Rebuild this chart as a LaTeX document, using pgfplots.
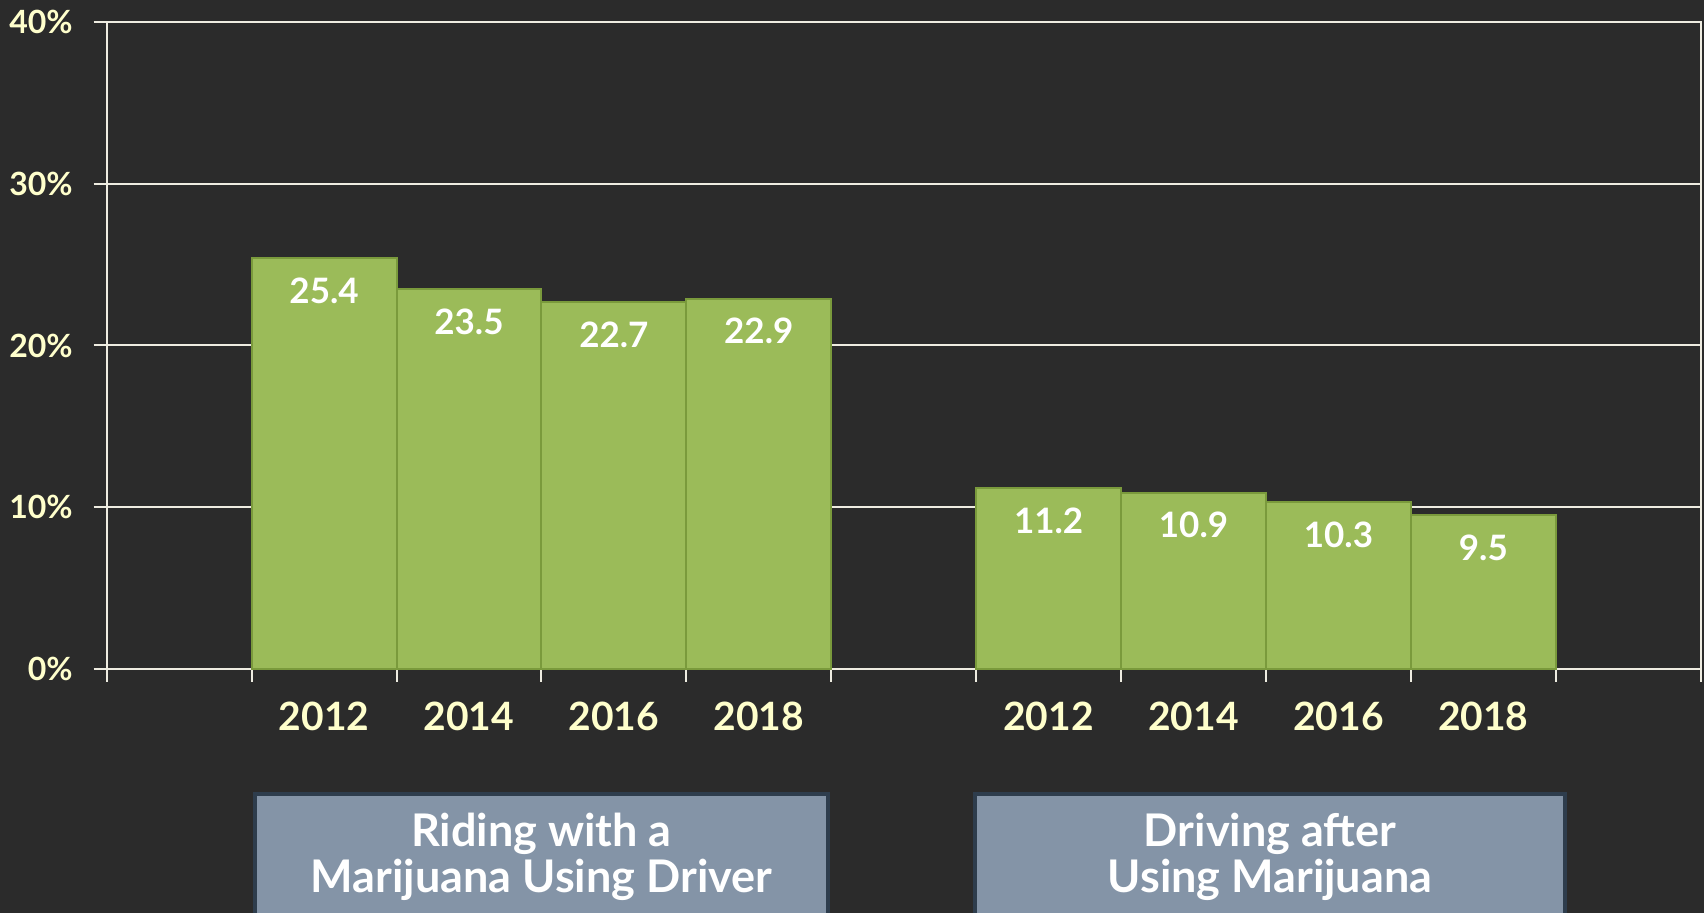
\documentclass[border=0pt]{standalone}
\usepackage{pgfplots}
\pgfplotsset{compat=1.18}
\usepackage{fontspec}
\setmainfont{Lato}
\definecolor{bg}{HTML}{2B2B2B}
\definecolor{gridc}{HTML}{EEECE1}
\definecolor{barc}{HTML}{9BBB59}
\definecolor{barb}{HTML}{7A9A3C}
\definecolor{labc}{HTML}{FFFFCC}
\definecolor{boxf}{HTML}{8494A7}
\definecolor{boxb}{HTML}{2E3D4D}
\begin{document}
\begin{tikzpicture}
\fill[bg] (0,0) rectangle (852pt,456.5pt);
\useasboundingbox (0,0) rectangle (852pt,456.5pt);
\begin{axis}[
  at={(53.35pt,122pt)}, anchor=south west,
  scale only axis, width=797pt, height=323.5pt,
  xmin=-0.5, xmax=10.5, ymin=0, ymax=40,
  axis line style={draw=gridc, line width=1pt},
  ymajorgrids, grid style={draw=gridc, line width=1pt},
  tick style={draw=gridc, line width=1pt},
  tick align=outside, major tick length=6.5pt,
  xtick pos=bottom, ytick pos=left,
  /pgf/number format/assume math mode=true,
  ytick={0,10,20,30,40}, yticklabels={0\%,10\%,20\%,30\%,40\%},
  yticklabel style={font=\bfseries\fontsize{16}{18}\selectfont, text=labc, xshift=-7pt},
  xtick={-0.5,0.5,...,10.5}, xticklabels={,,,,,,,,,,,,},
  extra x ticks={1,2,3,4,6,7,8,9},
  extra x tick labels={2012,2014,2016,2018,2012,2014,2016,2018},
  extra x tick style={major tick length=0pt, xticklabel style={font=\bfseries\fontsize{19.5}{22}\selectfont, text=labc, yshift=-13pt}},
  ybar, bar width=1,
  nodes near coords={\pgfmathprintnumber[assume math mode=true,fixed,precision=1]{\pgfplotspointmeta}},
  every node near coord/.append style={anchor=north, yshift=-6pt, text=white, font=\bfseries\fontsize{17.5}{20}\selectfont},
  clip=false,
]
\addplot[fill=barc, draw=barb, line width=1pt] coordinates {
  (1,25.4) (2,23.5) (3,22.7) (4,22.9)
  (6,11.2) (7,10.9) (8,10.3) (9,9.5)
};
\end{axis}
\filldraw[fill=boxf, draw=boxb, line width=2pt] (127.5pt,-10pt) rectangle (414pt,59.5pt);
\filldraw[fill=boxf, draw=boxb, line width=2pt] (487.5pt,-10pt) rectangle (782.5pt,59.5pt);
\begin{scope}[every node/.style={anchor=base, text=white, font=\bfseries\fontsize{22.5}{26}\selectfont, inner sep=0pt}]
\node at (270.75pt,33.25pt) {Riding with a};
\node at (270.75pt,10pt) {Marijuana Using Driver};
\node at (635pt,33.25pt) {Driving after};
\node at (635pt,10pt) {Using Marijuana};
\end{scope}
\end{tikzpicture}
\end{document}
